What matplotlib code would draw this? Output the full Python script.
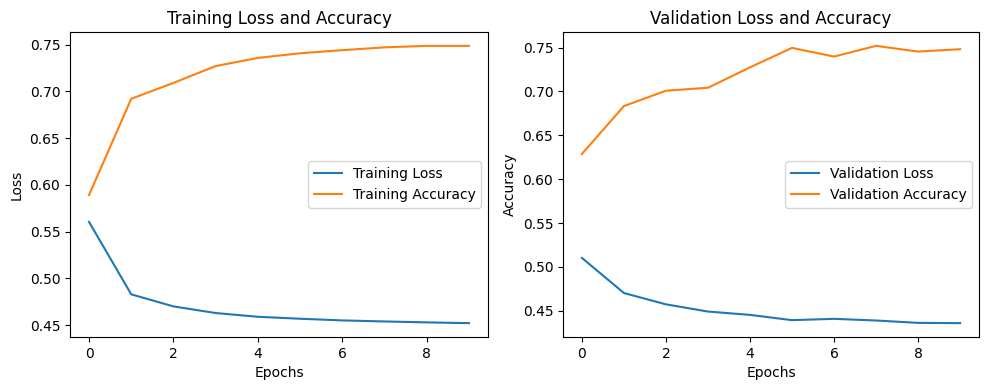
import matplotlib
matplotlib.use("Agg")
import matplotlib.pyplot as plt

epochs = list(range(10))
train_loss = [0.5604, 0.4829, 0.4700, 0.4629, 0.4589, 0.4568, 0.4550, 0.4539, 0.4529, 0.4521]
train_acc = [0.589, 0.692, 0.709, 0.727, 0.7357, 0.7407, 0.744, 0.747, 0.7486, 0.7486]
val_loss = [0.5103, 0.4703, 0.4574, 0.4492, 0.4454, 0.4394, 0.4409, 0.4390, 0.4363, 0.4360]
val_acc = [0.6287, 0.6833, 0.7008, 0.7042, 0.7274, 0.7496, 0.7397, 0.7519, 0.7454, 0.7481]

fig, (ax1, ax2) = plt.subplots(1, 2, figsize=(9.89, 3.9), dpi=100)
W, H = 989, 390
ax1.set_position([70 / W, 1 - 337 / H, (488 - 70) / W, (337 - 32) / H])
ax2.set_position([563 / W, 1 - 337 / H, (979 - 563) / W, (337 - 32) / H])

ax1.plot(epochs, train_loss, label="Training Loss")
ax1.plot(epochs, train_acc, label="Training Accuracy")
ax1.set_title("Training Loss and Accuracy")
ax1.set_xlabel("Epochs")
ax1.set_ylabel("Loss")
ax1.legend()

ax2.plot(epochs, val_loss, label="Validation Loss")
ax2.plot(epochs, val_acc, label="Validation Accuracy")
ax2.set_title("Validation Loss and Accuracy")
ax2.set_xlabel("Epochs")
ax2.set_ylabel("Accuracy")
ax2.legend()

fig.savefig("out.png", dpi=100)
